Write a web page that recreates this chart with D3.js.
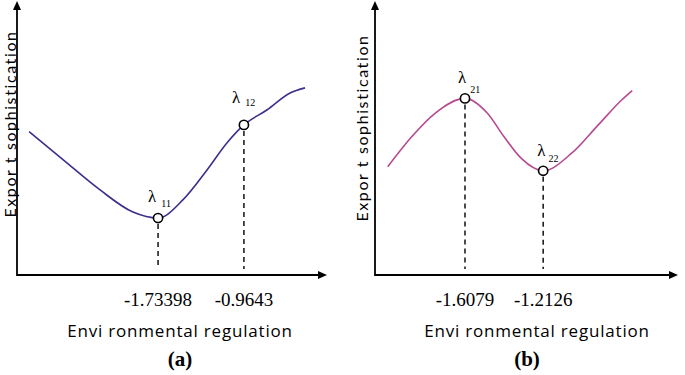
<!DOCTYPE html>
<html>
<head>
<meta charset="utf-8">
<script src="https://cdn.jsdelivr.net/npm/d3@7"></script>
<style>
  body { margin: 0; background: #fff; }
</style>
</head>
<body>
<svg id="chart"></svg>
<script>
// curve (a): environmental regulation vs export sophistication, in 0..10 units
const xA = [0.39, 1.61, 2.68, 3.74, 4.55, 5.35, 6.13, 6.77, 7.32, 8.06, 8.81, 9.29];
const yA = [5.31, 4.15, 3.15, 2.33, 2.11, 2.78, 3.89, 4.89, 5.56, 6.11, 6.74, 6.93];
const critA = [4, 8];                       // indexes of the marked points
const ticksA = ["-1.73398", "-0.9643"];
const lambdaA = ["11", "12"];

// curve (b)
const xB = [0.42, 1.21, 1.98, 2.97, 3.71, 4.26, 4.83, 5.55, 6.49, 7.37, 8.14, 8.49];
const yB = [4.01, 5.12, 5.99, 6.54, 5.99, 5.12, 4.32, 3.86, 4.51, 5.56, 6.48, 6.83];
const critB = [3, 7];
const ticksB = ["-1.6079", "-1.2126"];
const lambdaB = ["21", "22"];

const width = 685, height = 375;
const svg = d3.select("#chart").attr("width", width).attr("height", height);

const sans = "'Open Sans', Lato, sans-serif";
const serif = "'Liberation Serif', 'Times New Roman', serif";

function drawPanel(opt) {
  const x = d3.scaleLinear().domain([0, 10]).range([opt.x0, opt.x1]);
  const y = d3.scaleLinear().domain([0, 10]).range([opt.y0, 5]);
  const g = svg.append("g");

  // axes with arrowheads
  g.append("line").attr("x1", opt.x0).attr("x2", opt.x1 - 7)
    .attr("y1", opt.y0).attr("y2", opt.y0).attr("stroke", "#000").attr("stroke-width", 1.8);
  g.append("line").attr("x1", opt.x0).attr("x2", opt.x0)
    .attr("y1", opt.y0 + 1).attr("y2", 8).attr("stroke", "#000").attr("stroke-width", 1.8);
  g.append("path")
    .attr("d", `M${opt.x1},${opt.y0} L${opt.x1 - 9},${opt.y0 - 4} L${opt.x1 - 9},${opt.y0 + 4}Z`)
    .attr("fill", "#000");
  g.append("path")
    .attr("d", `M${opt.x0},1 L${opt.x0 - 4},10 L${opt.x0 + 4},10Z`)
    .attr("fill", "#000");

  const pts = opt.xs.map((d, i) => [d, opt.ys[i]]);
  const line = d3.line().x(d => x(d[0])).y(d => y(d[1])).curve(d3.curveMonotoneX);
  g.append("path").datum(pts).attr("d", line)
    .attr("fill", "none").attr("stroke", opt.color).attr("stroke-width", 1.6);

  opt.crit.forEach((ci, k) => {
    const cx = x(opt.xs[ci]), cy = y(opt.ys[ci]);
    g.append("line").attr("x1", cx).attr("x2", cx)
      .attr("y1", cy + 6).attr("y2", opt.y0 - 6)
      .attr("stroke", "#000").attr("stroke-width", 1.4).attr("stroke-dasharray", "5,4");
    g.append("circle").attr("cx", cx).attr("cy", cy).attr("r", 4.6)
      .attr("fill", "#fff").attr("stroke", "#000").attr("stroke-width", 1.6);
    const lab = g.append("text")
      .attr("x", cx + opt.lamDx[k]).attr("y", cy + opt.lamDy[k])
      .attr("font-family", serif).attr("font-size", 17).attr("fill", "#000");
    lab.append("tspan").text("λ");
    lab.append("tspan").attr("dx", opt.subDx[k]).attr("dy", opt.subDy[k])
      .attr("font-size", 10).text(opt.lam[k]);
    g.append("text").attr("x", cx).attr("y", opt.y0 + 31)
      .attr("text-anchor", "middle").attr("font-family", serif).attr("font-size", 19)
      .text(opt.ticks[k]);
  });

  g.append("text").attr("x", opt.labelX).attr("y", opt.y0 + 62)
    .attr("text-anchor", "middle").attr("font-family", sans).attr("font-size", 17)
    .attr("letter-spacing", 0.8)
    .text("Envi ronmental regulation");
  g.append("text")
    .attr("transform", `translate(${opt.x0 - opt.yLabelOff},${opt.yLabelY}) rotate(-90)`)
    .attr("text-anchor", "middle").attr("font-family", "Lato, sans-serif").attr("font-size", 16)
    .attr("letter-spacing", 1.6)
    .text("Expor t sophistication");
  g.append("text").attr("x", opt.capX).attr("y", 366)
    .attr("text-anchor", "middle").attr("font-family", serif).attr("font-size", 21)
    .attr("font-weight", "bold").text(opt.cap);
}

drawPanel({
  x0: 17, x1: 327, y0: 275, xs: xA, ys: yA, crit: critA, ticks: ticksA, lam: lambdaA,
  color: "#3b2f8c", lamDx: [-10, -12], lamDy: [-16, -22], subDx: [5, 5], subDy: [5, 3],
  labelX: 180, yLabelY: 124, yLabelOff: 1.5, capX: 180, cap: "(a)"
});
drawPanel({
  x0: 375, x1: 678, y0: 275, xs: xB, ys: yB, crit: critB, ticks: ticksB, lam: lambdaB,
  color: "#b54a8f", lamDx: [-7, -6], lamDy: [-15, -15], subDx: [4, 3], subDy: [10, 6],
  labelX: 537, yLabelY: 128, yLabelOff: 7, capX: 527, cap: "(b)"
});
</script>
</body>
</html>
